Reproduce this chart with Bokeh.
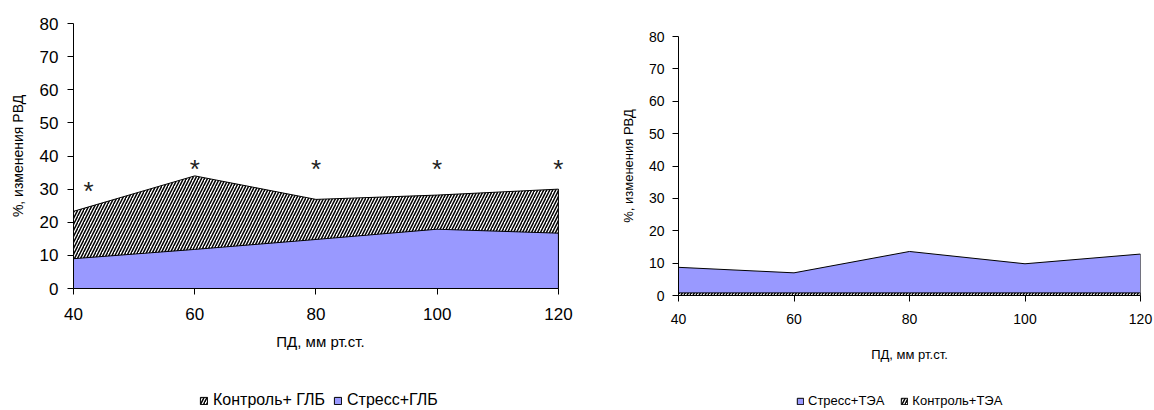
from bokeh.plotting import figure
from bokeh.layouts import row, column
from bokeh.models import Legend, LegendItem, Range1d, FixedTicker
from bokeh.core.properties import value
from bokeh.embed import file_html
from bokeh.resources import INLINE

# ---- data ----
pd_x = [40, 60, 80, 100, 120]
x_ticks = [40, 60, 80, 100, 120]
y_ticks = [0, 10, 20, 30, 40, 50, 60, 70, 80]

control_glb = [23.3, 34.0, 26.9, 28.2, 30.0]
stress_glb = [9.0, 11.8, 14.8, 17.9, 16.7]

stress_tea = [8.7, 7.0, 13.6, 9.8, 12.8]
control_tea = [0.8, 0.8, 0.8, 0.8, 0.8]

star_x = [42.5, 60, 80, 100, 120]
star_y = [29.3, 36.2, 36.2, 36.2, 36.2]

x_title = "ПД, мм рт.ст."
y_title = "%, изменения РВД"

FONT = "Liberation Sans"
BLUE = "#9999ff"
HATCH = dict(fill_color="white", hatch_pattern="right_diagonal_line",
             hatch_color="black", hatch_scale=6, hatch_weight=1.5)
MAIN_H = 383
LEG_H = 410 - MAIN_H


def area(xs, ys):
    return xs + xs[::-1], ys + [0] * len(ys)


def base_fig(width, left, right, top, bottom, tick_size, xr):
    p = figure(width=width, height=MAIN_H, output_backend="svg", toolbar_location=None,
               x_range=xr, y_range=Range1d(0, 80),
               min_border_left=left, min_border_right=right,
               min_border_top=top, min_border_bottom=bottom)
    p.outline_line_color = None
    p.grid.visible = False
    for ax in (p.xaxis[0], p.yaxis[0]):
        ax.axis_line_color = "black"
        ax.axis_line_width = 1
        ax.major_tick_line_color = "black"
        ax.major_tick_out = 6
        ax.major_tick_in = 0
        ax.minor_tick_line_color = None
        ax.major_label_text_font = FONT
        ax.major_label_text_font_size = tick_size
        ax.major_label_text_color = "black"
        ax.axis_label_text_font = FONT
        ax.axis_label_text_font_style = "normal"
        ax.axis_label_text_color = "black"
    p.xaxis.ticker = FixedTicker(ticks=x_ticks)
    p.yaxis.ticker = FixedTicker(ticks=y_ticks)
    p.xaxis.bounds = (40, 120)
    p.xaxis.axis_label = x_title
    p.yaxis.axis_label = y_title
    return p


def legend_fig(width, left, right, items_spec, loc, font_size, box, spacing, standoff):
    q = figure(width=width, height=LEG_H, output_backend="svg", toolbar_location=None,
               x_axis_location=None, y_axis_location=None,
               min_border_left=left, min_border_right=right,
               min_border_top=0, min_border_bottom=0,
               x_range=Range1d(0, 1), y_range=Range1d(0, 1))
    q.outline_line_color = None
    q.grid.visible = False
    items = []
    for label, style in items_spec:
        # legend swatch source: a patch placed outside the visible range
        r = q.patch([-3, -2, -2], [-3, -3, -2], line_color="black", line_width=1, **style)
        items.append(LegendItem(label=label, renderers=[r]))
    leg = Legend(items=items, orientation="horizontal", location=loc,
                 glyph_width=box, glyph_height=box, spacing=spacing, label_standoff=standoff,
                 padding=0, margin=0, border_line_color=None, background_fill_alpha=0,
                 label_text_font=FONT, label_text_font_size=font_size,
                 label_text_color="black",
                 label_height=int(font_size[:-2]))
    q.add_layout(leg, "center")
    return q


# ---- left chart ----
p1 = base_fig(577, 73, 10, 23, MAIN_H - 288, "17px", Range1d(40, 121.5))
p1.yaxis.major_label_standoff = 9
p1.xaxis.major_label_standoff = 13
p1.xaxis.axis_label_text_font_size = "15px"
p1.yaxis.axis_label_text_font_size = "14px"
p1.xaxis.axis_label_standoff = 10
p1.yaxis.axis_label_standoff = 11

cx, cy = area(pd_x, control_glb)
p1.patch(cx, cy, line_color="black", line_width=1, **HATCH)
sx, sy = area(pd_x, stress_glb)
p1.patch(sx, sy, fill_color=BLUE, line_color="black", line_width=1)
p1.text(star_x, star_y, text=["*"] * len(star_x), text_font=value(FONT),
        text_font_size="26px", text_align="center", text_baseline="alphabetic",
        text_color="#222222")

l1 = legend_fig(577, 73, 10,
                [("Контроль+ ГЛБ", HATCH), ("Стресс+ГЛБ", dict(fill_color=BLUE))],
                (126, 1), "16px", 9, 8, 5)

# ---- right chart ----
p2 = base_fig(577, 101, 14, 36, MAIN_H - 295, "14px", Range1d(40, 120))
p2.yaxis.major_label_standoff = 8
p2.xaxis.major_label_standoff = 12
p2.xaxis.axis_label_text_font_size = "13px"
p2.yaxis.axis_label_text_font_size = "13px"
p2.xaxis.axis_label_standoff = 20
p2.yaxis.axis_label_standoff = 10

sx2, sy2 = area(pd_x, stress_tea)
p2.patch(sx2, sy2, fill_color=BLUE, line_color="black", line_width=1)
cx2, cy2 = area(pd_x, control_tea)
p2.patch(cx2, cy2, line_color="black", line_width=1, **HATCH)

l2 = legend_fig(577, 101, 14,
                [("Стресс+ТЭА", dict(fill_color=BLUE)), ("Контроль+ТЭА", HATCH)],
                (118, 2), "13px", 8, 16, 4)

layout = row(column(p1, l1), column(p2, l2))
open("out.html", "w").write(file_html(layout, INLINE))
